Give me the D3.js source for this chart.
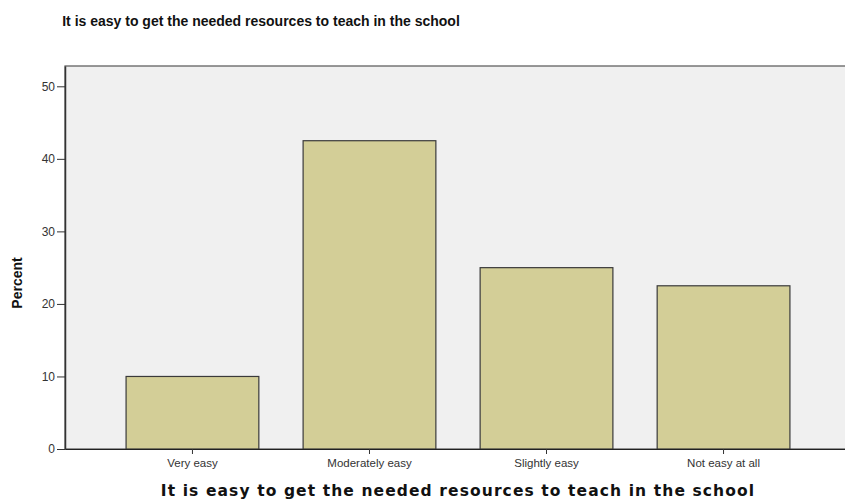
<!DOCTYPE html>
<html>
<head>
<meta charset="utf-8">
<script src="https://cdnjs.cloudflare.com/ajax/libs/d3/7.8.5/d3.min.js"></script>
<style>
  body { margin: 0; background: #fff; }
  svg { display: block; }
</style>
</head>
<body>
<div id="chart"></div>
<script>
const categories = ["Very easy", "Moderately easy", "Slightly easy", "Not easy at all"];
const percents = [10, 42.5, 25, 22.5];
const yTicks = [0, 10, 20, 30, 40, 50];
const chartTitle = "It is easy to get the needed resources to teach in the school";
const xTitle = "It is easy to get the needed resources to teach in the school";
const yTitle = "Percent";

const width = 845, height = 499;
const plotLeft = 65, plotTop = 66, plotBottom = 449, plotRight = 851;

const svg = d3.select("#chart").append("svg")
  .attr("width", width).attr("height", height);

const x = d3.scaleBand().domain(categories).range([plotLeft, plotRight])
  .paddingInner(0.25).paddingOuter(0.345);
const y = d3.scaleLinear().domain([0, 52.8]).range([plotBottom, plotTop]);

// plot background
svg.append("rect")
  .attr("x", plotLeft).attr("y", plotTop)
  .attr("width", plotRight - plotLeft).attr("height", plotBottom - plotTop)
  .attr("fill", "#f0f0f0")
  .attr("stroke", "#555").attr("stroke-width", 1.2);

// bars
svg.selectAll(".bar").data(percents).enter().append("rect")
  .attr("class", "bar")
  .attr("x", (d, i) => x(categories[i]))
  .attr("y", d => y(d))
  .attr("width", x.bandwidth())
  .attr("height", d => y(0) - y(d))
  .attr("fill", "#d3ce97")
  .attr("stroke", "#3a3a3a").attr("stroke-width", 1.2);

// y axis
const yAxis = d3.axisLeft(y).tickValues(yTicks).tickSize(8).tickSizeOuter(0).tickPadding(2);
const gy = svg.append("g").attr("transform", `translate(${plotLeft},0)`).call(yAxis);
gy.select(".domain").attr("stroke", "#333").attr("stroke-width", 1.5);
gy.selectAll(".tick line").attr("stroke", "#333");
gy.selectAll(".tick text")
  .attr("font-family", "Arial, 'Liberation Sans', sans-serif")
  .attr("font-size", 12).attr("fill", "#333");

// x axis
const xAxis = d3.axisBottom(x).tickSize(5).tickSizeOuter(0).tickPadding(5);
const gx = svg.append("g").attr("transform", `translate(0,${plotBottom})`).call(xAxis);
gx.select(".domain").attr("stroke", "#222").attr("stroke-width", 1.2);
gx.selectAll(".tick line").attr("stroke", "#333");
gx.selectAll(".tick text")
  .attr("font-family", "Arial, 'Liberation Sans', sans-serif")
  .attr("font-size", 11.5).attr("fill", "#333");

// titles
svg.append("text")
  .attr("x", 261).attr("y", 26)
  .attr("text-anchor", "middle")
  .attr("font-family", "Arial, 'Liberation Sans', sans-serif")
  .attr("font-weight", "bold").attr("font-size", 14)
  .attr("fill", "#111")
  .text(chartTitle);

svg.append("text")
  .attr("x", 458).attr("y", 496)
  .attr("text-anchor", "middle")
  .attr("font-family", "'DejaVu Sans', Verdana, sans-serif")
  .attr("font-weight", "bold").attr("font-size", 15.5)
  .attr("letter-spacing", 1.1)
  .attr("fill", "#111")
  .text(xTitle);

svg.append("text")
  .attr("transform", "translate(22,283) rotate(-90)")
  .attr("text-anchor", "middle")
  .attr("font-family", "'Liberation Sans Narrow', 'Arial Narrow', Arial, sans-serif")
  .attr("font-weight", "bold").attr("font-size", 14)
  .attr("fill", "#111")
  .text(yTitle);
</script>
</body>
</html>
